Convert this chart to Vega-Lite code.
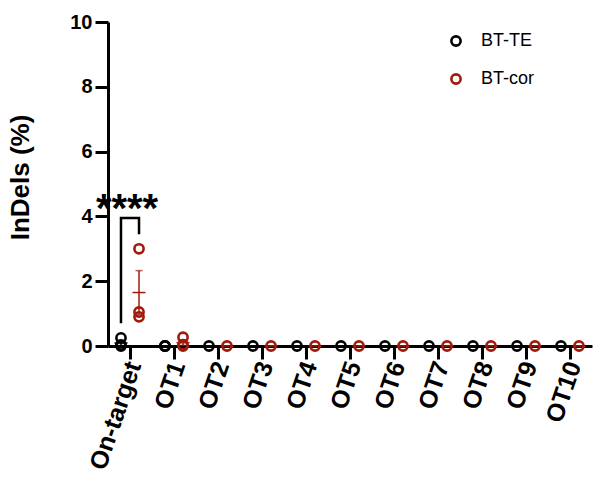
{
  "$schema": "https://vega.github.io/schema/vega-lite/v6.json",
  "width": 484,
  "height": 324,
  "autosize": {"type": "none"},
  "padding": {"left": 108, "top": 22, "right": 1, "bottom": 131},
  "background": "white",
  "config": {
    "view": {"stroke": null},
    "font": "Liberation Sans",
    "axis": {"domainColor": "black", "domainWidth": 3, "tickColor": "black", "tickWidth": 3, "tickSize": 13, "grid": false, "labelColor": "black", "labelFontWeight": "bold", "labelFontSize": 20, "labelFont": "Liberation Sans", "titleFont": "Liberation Sans", "titleColor": "black"}
  },
  "datasets": {
    "pts": [
      {"cat": "On-target", "group": "BT-TE", "v": 0.25},
      {"cat": "On-target", "group": "BT-TE", "v": 0.03},
      {"cat": "On-target", "group": "BT-TE", "v": 0.0},
      {"cat": "On-target", "group": "BT-cor", "v": 3.0},
      {"cat": "On-target", "group": "BT-cor", "v": 1.05},
      {"cat": "On-target", "group": "BT-cor", "v": 0.9},
      {"cat": "OT1", "group": "BT-TE", "v": 0.0},
      {"cat": "OT1", "group": "BT-TE", "v": 0.0},
      {"cat": "OT1", "group": "BT-TE", "v": 0.0},
      {"cat": "OT1", "group": "BT-cor", "v": 0.27},
      {"cat": "OT1", "group": "BT-cor", "v": 0.04},
      {"cat": "OT1", "group": "BT-cor", "v": 0.0},
      {"cat": "OT2", "group": "BT-TE", "v": 0.0},
      {"cat": "OT2", "group": "BT-cor", "v": 0.0},
      {"cat": "OT3", "group": "BT-TE", "v": 0.0},
      {"cat": "OT3", "group": "BT-cor", "v": 0.0},
      {"cat": "OT4", "group": "BT-TE", "v": 0.0},
      {"cat": "OT4", "group": "BT-cor", "v": 0.0},
      {"cat": "OT5", "group": "BT-TE", "v": 0.0},
      {"cat": "OT5", "group": "BT-cor", "v": 0.0},
      {"cat": "OT6", "group": "BT-TE", "v": 0.0},
      {"cat": "OT6", "group": "BT-cor", "v": 0.0},
      {"cat": "OT7", "group": "BT-TE", "v": 0.0},
      {"cat": "OT7", "group": "BT-cor", "v": 0.0},
      {"cat": "OT8", "group": "BT-TE", "v": 0.0},
      {"cat": "OT8", "group": "BT-cor", "v": 0.0},
      {"cat": "OT9", "group": "BT-TE", "v": 0.0},
      {"cat": "OT9", "group": "BT-cor", "v": 0.0},
      {"cat": "OT10", "group": "BT-TE", "v": 0.0},
      {"cat": "OT10", "group": "BT-cor", "v": 0.0}
    ],
    "bracket": [
      {"cat": "On-target", "group": "BT-TE", "v": 0.7, "o": 1},
      {"cat": "On-target", "group": "BT-TE", "v": 3.95, "o": 2},
      {"cat": "On-target", "group": "BT-cor", "v": 3.95, "o": 3},
      {"cat": "On-target", "group": "BT-cor", "v": 3.45, "o": 4}
    ],
    "sig": [
      {"cat": "On-target", "v": 4.2, "label": "****"}
    ]
  },
  "resolve": {"scale": {"color": "independent"}, "legend": {"color": "independent"}},
  "encoding": {
    "x": {"field": "cat", "type": "nominal", "sort": null,
      "scale": {"domain": ["On-target", "OT1", "OT2", "OT3", "OT4", "OT5", "OT6", "OT7", "OT8", "OT9", "OT10"], "paddingInner": 0, "paddingOuter": 0},
      "axis": {"title": null, "labelAngle": -71, "labelFontSize": 25, "labelPadding": 3, "labelOffset": 4}},
    "y": {"field": "v", "type": "quantitative",
      "scale": {"domain": [0, 10], "nice": false, "zero": true},
      "axis": {"title": "InDels (%)", "titleFontSize": 26, "titleFontWeight": "bold", "values": [0, 2, 4, 6, 8, 10], "labelPadding": 3, "titlePadding": 36, "titleY": 155}}
  },
  "layer": [
    {
      "data": {"name": "pts"},
      "mark": {"type": "errorbar", "extent": "stderr", "ticks": {"size": 7}, "thickness": 1.5},
      "encoding": {
        "xOffset": {"field": "group", "type": "nominal", "scale": {"domain": ["BT-TE", "BT-cor"], "paddingOuter": 0.22, "paddingInner": 0}},
        "color": {"field": "group", "type": "nominal", "scale": {"domain": ["BT-TE", "BT-cor"], "range": ["#000000", "#a01a0c"]}, "legend": null}
      }
    },
    {
      "data": {"name": "pts"},
      "mark": {"type": "tick", "thickness": 1.5, "size": 13},
      "encoding": {
        "y": {"aggregate": "mean", "field": "v", "type": "quantitative"},
        "xOffset": {"field": "group", "type": "nominal"},
        "color": {"field": "group", "type": "nominal", "scale": {"domain": ["BT-TE", "BT-cor"], "range": ["#000000", "#a01a0c"]}, "legend": null}
      }
    },
    {
      "data": {"name": "bracket"},
      "mark": {"type": "line", "color": "black", "strokeWidth": 2.5, "strokeJoin": "miter", "strokeCap": "butt"},
      "encoding": {
        "xOffset": {"field": "group", "type": "nominal"},
        "order": {"field": "o", "type": "quantitative"}
      }
    },
    {
      "data": {"name": "sig"},
      "mark": {"type": "text", "fontSize": 40, "fontWeight": "bold", "color": "black", "baseline": "middle", "align": "center", "dx": -3},
      "encoding": {
        "text": {"field": "label"}
      }
    },
    {
      "data": {"name": "pts"},
      "mark": {"type": "point", "shape": "circle", "filled": false, "strokeWidth": 2.6, "size": 85, "opacity": 1},
      "encoding": {
        "xOffset": {"field": "group", "type": "nominal"},
        "color": {"field": "group", "type": "nominal", "scale": {"domain": ["BT-TE", "BT-cor"], "range": ["#000000", "#a01a0c"]},
          "legend": {"title": null, "orient": "none", "legendX": 339, "legendY": 10, "padding": 0, "labelFontSize": 18, "labelFont": "Liberation Sans", "labelColor": "black", "symbolSize": 85, "symbolType": "circle", "symbolStrokeWidth": 2.6, "symbolOpacity": 1, "rowPadding": 18, "labelOffset": 16}}
      }
    }
  ]
}
